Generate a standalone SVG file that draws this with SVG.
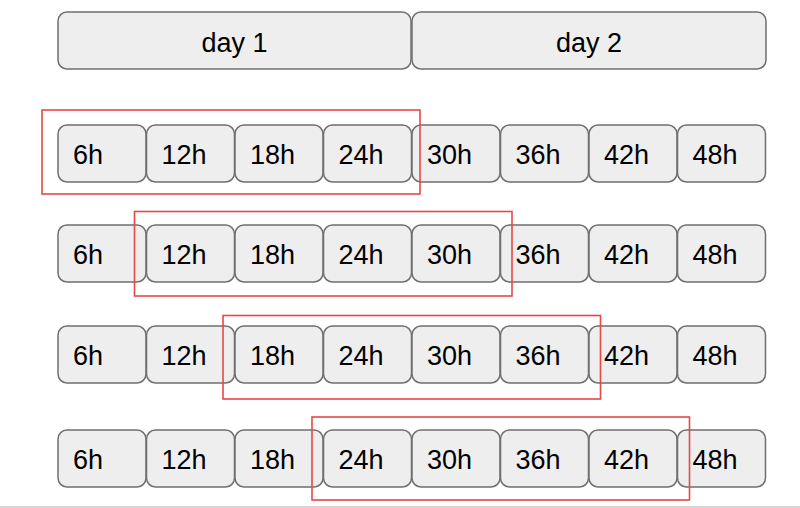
<svg xmlns="http://www.w3.org/2000/svg" width="800" height="508" viewBox="0 0 800 508">
<style>
.box{fill:#eeeeee;stroke:#6f6f6f;stroke-width:1.5}
.lbl{font-family:"Liberation Sans",Arial,sans-serif;font-size:27px;fill:#000}
.c{text-anchor:middle}
.win{fill:none;stroke:#e84848;stroke-width:1.6}
</style>
<rect width="800" height="508" fill="#ffffff"/>
<g id="days">
<g id="day1"><rect class="box" x="58" y="12" width="353" height="57" rx="9"/><text class="lbl c" x="234.5" y="52">day 1</text></g>
<g id="day2"><rect class="box" x="412" y="12" width="354" height="57" rx="9"/><text class="lbl c" x="589" y="52">day 2</text></g>
</g>
<g id="row1">
<g id="r1-6h"><rect class="box" x="58" y="125" width="88" height="57" rx="9"/><text class="lbl" x="73" y="163.5">6h</text></g>
<g id="r1-12h"><rect class="box" x="146.5" y="125" width="88" height="57" rx="9"/><text class="lbl" x="161.5" y="163.5">12h</text></g>
<g id="r1-18h"><rect class="box" x="235" y="125" width="88" height="57" rx="9"/><text class="lbl" x="250" y="163.5">18h</text></g>
<g id="r1-24h"><rect class="box" x="323.5" y="125" width="88" height="57" rx="9"/><text class="lbl" x="338.5" y="163.5">24h</text></g>
<g id="r1-30h"><rect class="box" x="412" y="125" width="88" height="57" rx="9"/><text class="lbl" x="427" y="163.5">30h</text></g>
<g id="r1-36h"><rect class="box" x="500.5" y="125" width="88" height="57" rx="9"/><text class="lbl" x="515.5" y="163.5">36h</text></g>
<g id="r1-42h"><rect class="box" x="589" y="125" width="88" height="57" rx="9"/><text class="lbl" x="604" y="163.5">42h</text></g>
<g id="r1-48h"><rect class="box" x="677.5" y="125" width="88" height="57" rx="9"/><text class="lbl" x="692.5" y="163.5">48h</text></g>
</g>
<g id="row2">
<g id="r2-6h"><rect class="box" x="58" y="225" width="88" height="57" rx="9"/><text class="lbl" x="73" y="263.5">6h</text></g>
<g id="r2-12h"><rect class="box" x="146.5" y="225" width="88" height="57" rx="9"/><text class="lbl" x="161.5" y="263.5">12h</text></g>
<g id="r2-18h"><rect class="box" x="235" y="225" width="88" height="57" rx="9"/><text class="lbl" x="250" y="263.5">18h</text></g>
<g id="r2-24h"><rect class="box" x="323.5" y="225" width="88" height="57" rx="9"/><text class="lbl" x="338.5" y="263.5">24h</text></g>
<g id="r2-30h"><rect class="box" x="412" y="225" width="88" height="57" rx="9"/><text class="lbl" x="427" y="263.5">30h</text></g>
<g id="r2-36h"><rect class="box" x="500.5" y="225" width="88" height="57" rx="9"/><text class="lbl" x="515.5" y="263.5">36h</text></g>
<g id="r2-42h"><rect class="box" x="589" y="225" width="88" height="57" rx="9"/><text class="lbl" x="604" y="263.5">42h</text></g>
<g id="r2-48h"><rect class="box" x="677.5" y="225" width="88" height="57" rx="9"/><text class="lbl" x="692.5" y="263.5">48h</text></g>
</g>
<g id="row3">
<g id="r3-6h"><rect class="box" x="58" y="326" width="88" height="57" rx="9"/><text class="lbl" x="73" y="364.5">6h</text></g>
<g id="r3-12h"><rect class="box" x="146.5" y="326" width="88" height="57" rx="9"/><text class="lbl" x="161.5" y="364.5">12h</text></g>
<g id="r3-18h"><rect class="box" x="235" y="326" width="88" height="57" rx="9"/><text class="lbl" x="250" y="364.5">18h</text></g>
<g id="r3-24h"><rect class="box" x="323.5" y="326" width="88" height="57" rx="9"/><text class="lbl" x="338.5" y="364.5">24h</text></g>
<g id="r3-30h"><rect class="box" x="412" y="326" width="88" height="57" rx="9"/><text class="lbl" x="427" y="364.5">30h</text></g>
<g id="r3-36h"><rect class="box" x="500.5" y="326" width="88" height="57" rx="9"/><text class="lbl" x="515.5" y="364.5">36h</text></g>
<g id="r3-42h"><rect class="box" x="589" y="326" width="88" height="57" rx="9"/><text class="lbl" x="604" y="364.5">42h</text></g>
<g id="r3-48h"><rect class="box" x="677.5" y="326" width="88" height="57" rx="9"/><text class="lbl" x="692.5" y="364.5">48h</text></g>
</g>
<g id="row4">
<g id="r4-6h"><rect class="box" x="58" y="430" width="88" height="57" rx="9"/><text class="lbl" x="73" y="468.5">6h</text></g>
<g id="r4-12h"><rect class="box" x="146.5" y="430" width="88" height="57" rx="9"/><text class="lbl" x="161.5" y="468.5">12h</text></g>
<g id="r4-18h"><rect class="box" x="235" y="430" width="88" height="57" rx="9"/><text class="lbl" x="250" y="468.5">18h</text></g>
<g id="r4-24h"><rect class="box" x="323.5" y="430" width="88" height="57" rx="9"/><text class="lbl" x="338.5" y="468.5">24h</text></g>
<g id="r4-30h"><rect class="box" x="412" y="430" width="88" height="57" rx="9"/><text class="lbl" x="427" y="468.5">30h</text></g>
<g id="r4-36h"><rect class="box" x="500.5" y="430" width="88" height="57" rx="9"/><text class="lbl" x="515.5" y="468.5">36h</text></g>
<g id="r4-42h"><rect class="box" x="589" y="430" width="88" height="57" rx="9"/><text class="lbl" x="604" y="468.5">42h</text></g>
<g id="r4-48h"><rect class="box" x="677.5" y="430" width="88" height="57" rx="9"/><text class="lbl" x="692.5" y="468.5">48h</text></g>
</g>
<g id="windows">
<rect id="win1" class="win" x="42" y="110" width="378" height="84"/>
<rect id="win2" class="win" x="134.5" y="211.5" width="377.5" height="84.5"/>
<rect id="win3" class="win" x="223" y="315.5" width="377.5" height="83.5"/>
<rect id="win4" class="win" x="312" y="417" width="377.5" height="83"/>
</g>
<g id="connectors"></g>
<line x1="0" y1="507" x2="800" y2="507" stroke="#d4d4d4" stroke-width="2"/>
</svg>
